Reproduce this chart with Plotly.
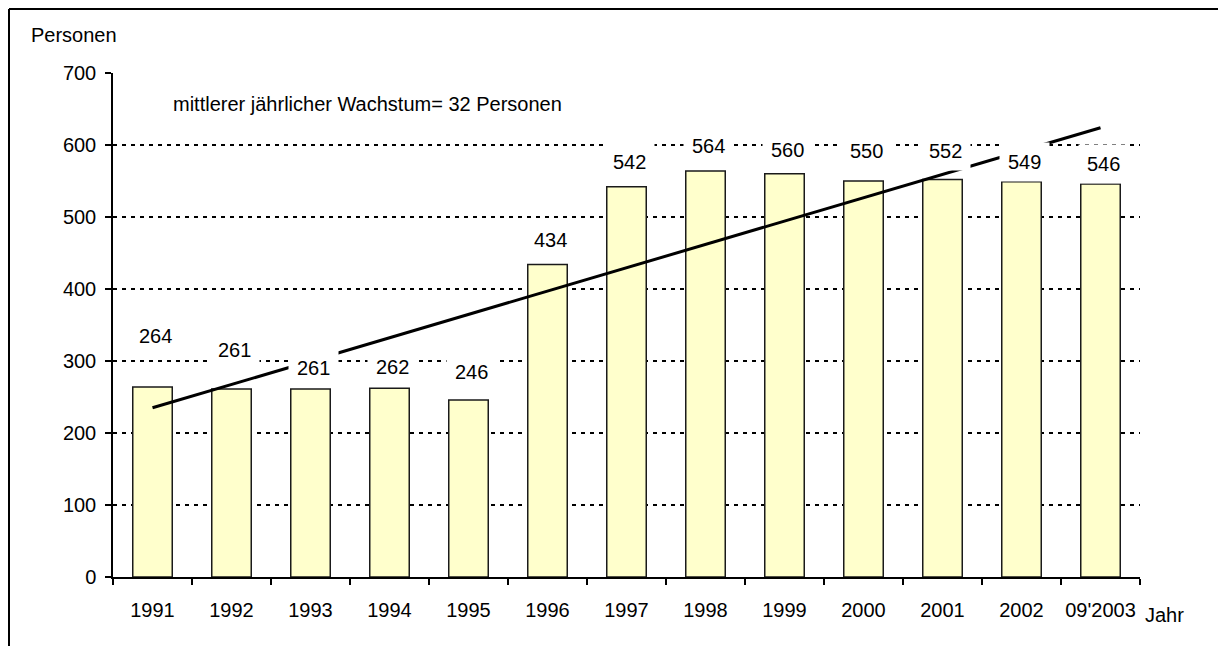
import plotly.graph_objects as go

# ---- data ----
categories = ["1991", "1992", "1993", "1994", "1995", "1996", "1997",
              "1998", "1999", "2000", "2001", "2002", "09'2003"]
personen = [264, 261, 261, 262, 246, 434, 542, 564, 560, 550, 552, 549, 546]
trend_start = 235
trend_end = 624
annotation_text = "mittlerer jährlicher Wachstum= 32 Personen"

# label placement (data-unit heights where the value labels sit)
label_y = [333, 314, 289, 290, 283, 467, 575, 597, 592, 590, 590, 575, 572]

# ---- layout geometry ----
W, H = 1218, 646
L, R, T, B = 113, 78, 73, 69
pw, ph = W - L - R, H - T - B

def px_x(x):
    return (x - L) / pw

def px_y(y):
    return (H - B - y) / ph

FONT = "Liberation Sans, Arial, sans-serif"
FS = 20

fig = go.Figure()
fig.add_trace(go.Bar(
    x=categories, y=personen, width=0.5,
    marker=dict(color="#FFFFCC", line=dict(color="#1a1a1a", width=1.5)),
    hoverinfo="x+y",
))
fig.add_trace(go.Scatter(
    x=[categories[0], categories[-1]], y=[trend_start, trend_end],
    mode="lines", line=dict(color="black", width=3), hoverinfo="skip",
))

annotations = []
for i, (v, ly) in enumerate(zip(personen, label_y)):
    annotations.append(dict(
        x=i, y=ly, xref="x", yref="y", text=str(v), showarrow=False,
        bgcolor="white", borderpad=8, xshift=3, yshift=1,
        font=dict(family=FONT, size=FS, color="black"),
    ))

annotations += [
    dict(x=px_x(29), y=px_y(35), xref="paper", yref="paper", text="Personen",
         xanchor="left", yanchor="middle", showarrow=False,
         font=dict(family=FONT, size=FS, color="black")),
    dict(x=px_x(1143), y=px_y(615), xref="paper", yref="paper", text="Jahr",
         xanchor="left", yanchor="middle", showarrow=False,
         font=dict(family=FONT, size=FS, color="black")),
    dict(x=px_x(171), y=px_y(104), xref="paper", yref="paper", text=annotation_text,
         xanchor="left", yanchor="middle", showarrow=False,
         font=dict(family=FONT, size=FS, color="black")),
]

shapes = [
    dict(type="line", xref="paper", yref="paper",
         x0=px_x(9), x1=px_x(W + 20), y0=px_y(9), y1=px_y(9),
         line=dict(color="black", width=2)),
    dict(type="line", xref="paper", yref="paper",
         x0=px_x(9), x1=px_x(9), y0=px_y(9), y1=px_y(H + 20),
         line=dict(color="black", width=2)),
]

fig.update_layout(
    width=W, height=H,
    margin=dict(l=L, r=R, t=T, b=B, pad=0, autoexpand=False),
    paper_bgcolor="white", plot_bgcolor="white",
    showlegend=False, bargap=0.5,
    font=dict(family=FONT, size=FS, color="black"),
    annotations=annotations, shapes=shapes,
    xaxis=dict(
        type="category", range=[-0.5, 12.5], automargin=False, tickangle=0,
        showline=True, linecolor="black", linewidth=1.5,
        ticks="outside", tickson="boundaries", ticklen=6, tickwidth=1.5,
        tickcolor="black", showgrid=False, ticklabelstandoff=14,
        tickfont=dict(family=FONT, size=FS, color="black"),
    ),
    yaxis=dict(
        range=[0, 700], dtick=100, tick0=0, automargin=False,
        showline=True, linecolor="black", linewidth=1.5,
        ticks="outside", ticklen=6, tickwidth=1.5, tickcolor="black",
        showgrid=True, gridcolor="black", gridwidth=2, griddash="4px,5px",
        zeroline=False, ticklabelstandoff=5,
        tickfont=dict(family=FONT, size=FS, color="black"),
    ),
)

fig.write_html(
    "out.html",
    config={"displayModeBar": False},
    post_script="document.body.style.margin='0';document.body.style.overflow='hidden';",
)
